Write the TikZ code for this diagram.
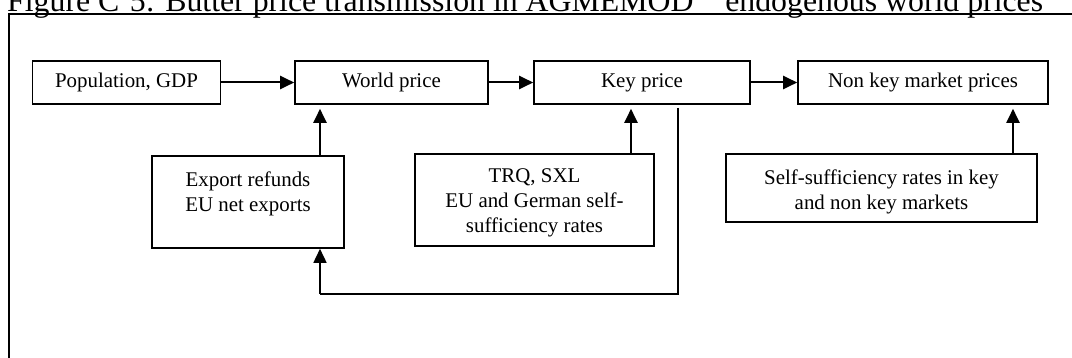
\documentclass[tikz,border=0pt]{standalone}
\usepackage{fontspec}
\setmainfont{Liberation Serif}
\usetikzlibrary{arrows.meta,calc}
\begin{document}
\begin{tikzpicture}[x=1pt,y=-1pt,
  box/.style={draw,line width=1.6pt,inner sep=0pt,font=\fontsize{20.9}{25}\selectfont},
  txt/.style={inner sep=0pt,align=center,font=\fontsize{20.9}{25}\selectfont},
  conn/.style={line width=2pt,-{Triangle[length=14pt,width=13pt]}},
  loopline/.style={line width=1.3pt}]
\clip (0,0) rectangle (1072,358);
\fill[white] (0,0) rectangle (1072,358);
% title (its upper part lies above the picture's edge)
\node[anchor=base west,inner sep=0pt,font=\fontsize{31.8}{36}\selectfont] (title) at (7,11.5)
  {Figure C\phantom{-}5: Butter price transmission in AGMEMOD \phantom{--} endogenous world prices};
% frame
\coordinate (fbl) at (8.5,370);
\coordinate (ftl) at (8.5,14.5);
\coordinate (ftr) at (1090,14.5);
\draw[line width=2pt] (fbl) -- (ftl) -- (ftr);
% top row
\node[box,minimum width=188pt,minimum height=43pt] (pop) at (126.5,82.5) {Population, GDP};
\node[box,minimum width=193pt,minimum height=43pt] (world) at (391.5,82.5) {World price};
\node[box,minimum width=216pt,minimum height=43pt] (key) at (642,82.5) {Key price};
\node[box,minimum width=250pt,minimum height=43pt] (nonkey) at (923,82.5) {Non key market prices};
% lower boxes
\node[box,minimum width=192pt,minimum height=92pt] (export) at (248,202) {};
\node[txt] (exportt) at (248,194) {Export refunds\\EU net exports};
\node[box,minimum width=239pt,minimum height=92pt] (trq) at (534.5,200) {};
\node[txt] (trqt) at (534.5,203) {TRQ, SXL\\EU and German self-\\sufficiency rates};
\node[box,minimum width=311pt,minimum height=68pt] (self) at (881.5,188) {};
\node[txt] (selft) at (881.5,192) {Self-sufficiency rates in key\\and non key markets};
% helper x positions
\coordinate (xa) at (320,0);
\coordinate (xb) at (631,0);
\coordinate (xc) at (1013,0);
\coordinate (xd) at (678,0);
\coordinate (yl) at (0,294);
% horizontal arrows
\draw[conn] (pop) -- (world);
\draw[conn] (world) -- (key);
\draw[conn] (key) -- (nonkey);
% vertical arrows
\draw[conn,shorten >=4pt] (export.north -| xa) -- (world.south -| xa);
\draw[conn,shorten >=4pt] (trq.north -| xb) -- (key.south -| xb);
\draw[conn,shorten >=4pt] (self.north -| xc) -- (nonkey.south -| xc);
% feedback loop
\draw[loopline,shorten <=3pt] (key.south -| xd) -- (xd |- yl) -- (xa |- yl);
\draw[conn,line width=1.6pt] (xa |- yl) -- (export.south -| xa);
\end{tikzpicture}
\end{document}
